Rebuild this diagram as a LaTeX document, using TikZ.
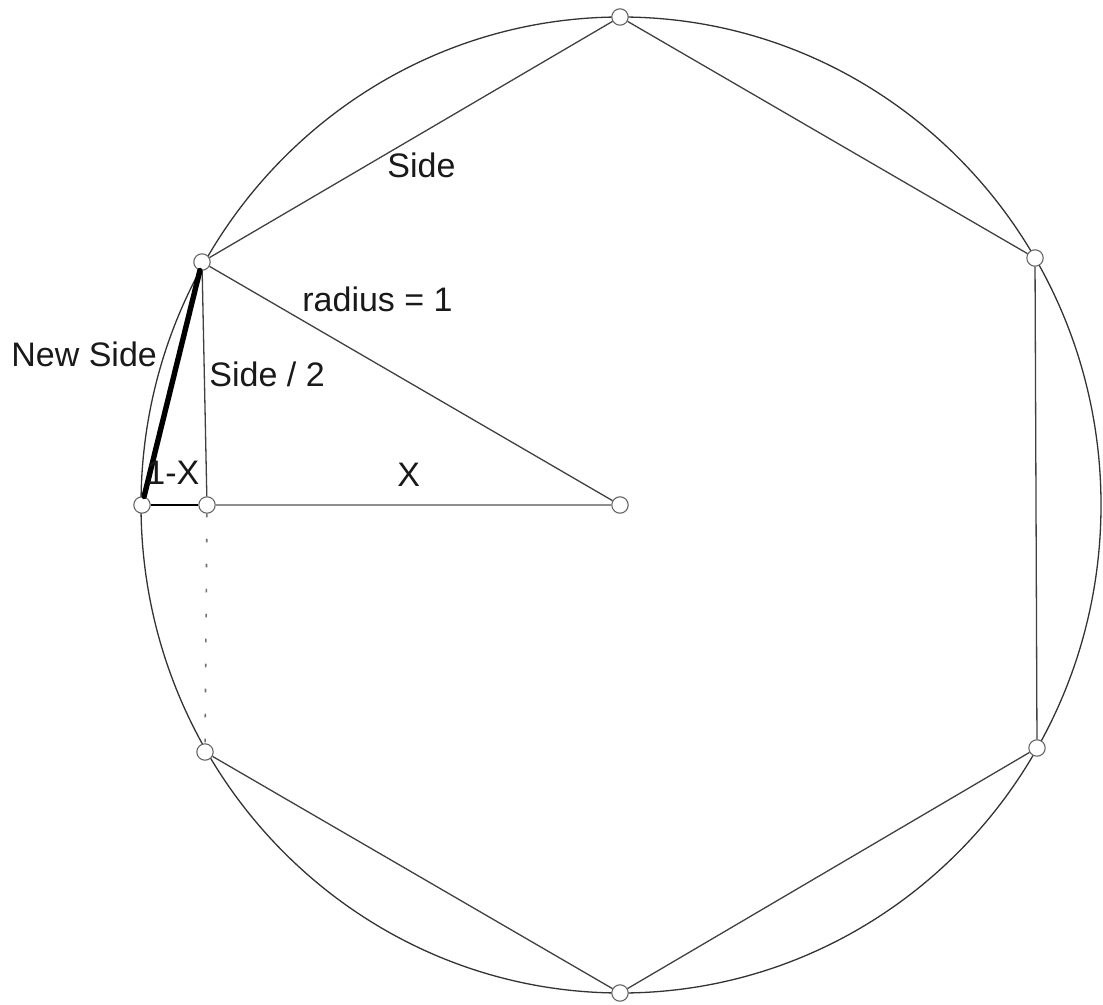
\documentclass[tikz,border=0pt]{standalone}
\usepackage{fontspec}
\setmainfont{Liberation Sans}
\usetikzlibrary{positioning}
\definecolor{cRim} {HTML}{333333}
\definecolor{cEdge}{HTML}{404040}
\definecolor{cGrey}{HTML}{8E8E8E}
\tikzset{
  vtx/.style  ={circle,draw=black!60,fill=white,line width=0.55pt,
                inner sep=0pt,minimum size=8.2pt},
  rim/.style  ={draw=cRim,line width=0.65pt},
  edge/.style ={draw=cEdge,line width=0.65pt},
  half/.style ={edge,draw=black!75},
  base/.style ={draw=cGrey,line width=0.75pt},
  foot/.style ={draw=black,line width=0.75pt},
  chord/.style={draw=black,line width=2.7pt,line cap=round},
  drop/.style ={draw=black!55,line width=0.8pt,dash pattern=on 1.8pt off 10.7pt},
  lbl/.style  ={font=\fontsize{17}{20}\selectfont,anchor=base west,
                inner sep=0pt,text=black!90},
}
\begin{document}
\begin{tikzpicture}[x=0.5pt,y=-0.5pt]
\useasboundingbox (0,0) rectangle (1103,1005);

% ---- circle --------------------------------------------------------------
\draw[rim] (621,505) ellipse [x radius=240pt,y radius=244pt];

% ---- vertices ------------------------------------------------------------
\node[vtx] (top) at (620,17)  {};
\node[vtx] (ur)  at (1035,258) {};
\node[vtx] (lr)  at (1037,748) {};
\node[vtx] (bot) at (620,993) {};
\node[vtx] (ll)  at (205,752) {};
\node[vtx] (ul)  at (202,262) {};
\node[vtx] (lft) at (142,505) {};
\node[vtx] (ft)  at (207,505) {};
\node[vtx] (ctr) at (620,505) {};

% ---- hexagon -------------------------------------------------------------
\foreach \a/\b in {top/ur,ur/lr,lr/bot,bot/ll,ul/top}
  {\draw[edge] (\a) -- (\b);}

% ---- triangle ------------------------------------------------------------
\draw[edge] (ul) -- (ctr);
\draw[half] (ul) -- (ft);
\draw[base] (ft) -- (ctr);
\draw[foot] (lft) -- (ft);
\draw[drop] (ft) -- (ll);
\draw[chord] (lft) -- (ul);

% ---- labels --------------------------------------------------------------
\node[lbl] (side)  at (387,178) {Side};
\node[lbl] (rad)   at (302,312) {radius = 1};
\node[lbl] (nside) at (11,367)  {New Side};
\node[lbl] (hside) at (209,387) {Side / 2};
\node[lbl] (omx)   at (146,485) {1-X};
\node[lbl] (xx)    at (397,487) {X};
\end{tikzpicture}
\end{document}
